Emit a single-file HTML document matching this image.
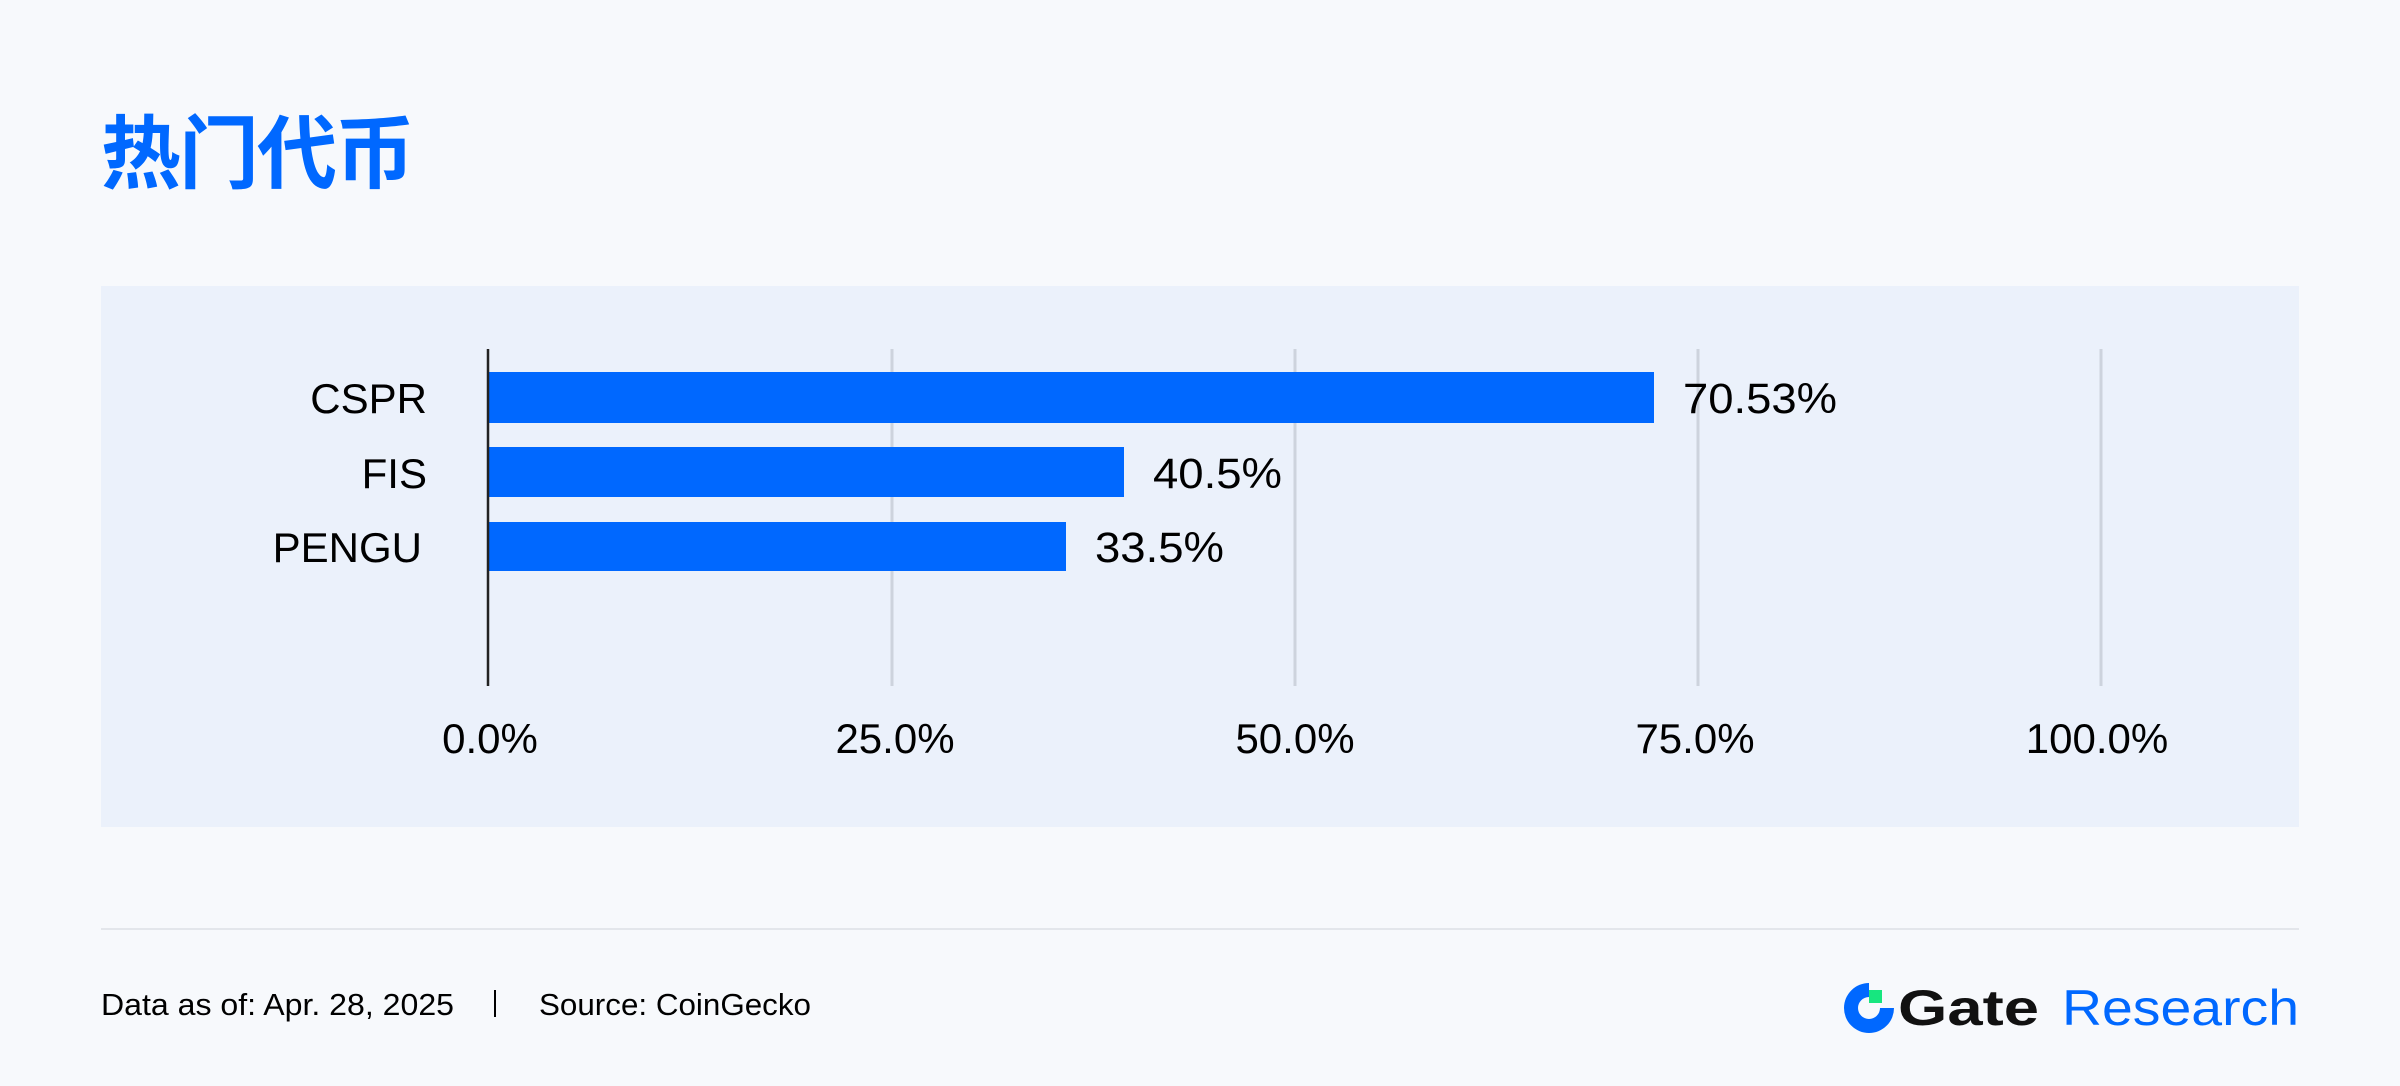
<!DOCTYPE html>
<html><head><meta charset="utf-8"><style>
html,body{margin:0;padding:0;background:#f7f9fc;}
svg{display:block}
</style></head><body>
<svg width="2400" height="1086" viewBox="0 0 2400 1086" xmlns="http://www.w3.org/2000/svg" font-family="Liberation Sans, sans-serif">
<rect width="2400" height="1086" fill="#f7f9fc"/>
<text x="101" y="182" font-family="Liberation Sans, Noto Sans CJK SC, sans-serif" font-weight="bold" font-size="80" fill="#0068ff" letter-spacing="-2">热门代币</text>
<rect x="101" y="286" width="2198" height="541" fill="#ebf1fb"/>
<g stroke="#cdd3dd" stroke-width="3">
<line x1="892" y1="349" x2="892" y2="686"/>
<line x1="1295" y1="349" x2="1295" y2="686"/>
<line x1="1698" y1="349" x2="1698" y2="686"/>
<line x1="2101" y1="349" x2="2101" y2="686"/>
</g>
<rect x="489" y="372" width="1165" height="51" fill="#0068ff"/>
<rect x="489" y="447" width="635" height="50" fill="#0068ff"/>
<rect x="489" y="522" width="577" height="49" fill="#0068ff"/>
<line x1="488" y1="349" x2="488" y2="686" stroke="#222" stroke-width="2.5"/>
<g font-size="42" fill="#000" text-anchor="end">
<text x="427" y="413">CSPR</text>
<text x="427" y="488">FIS</text>
<text x="422" y="562">PENGU</text>
</g>
<g font-size="43" fill="#000">
<text x="1683" y="413" textLength="154" lengthAdjust="spacingAndGlyphs">70.53%</text>
<text x="1153" y="488" textLength="129" lengthAdjust="spacingAndGlyphs">40.5%</text>
<text x="1095" y="562" textLength="129" lengthAdjust="spacingAndGlyphs">33.5%</text>
</g>
<g font-size="42" fill="#000" text-anchor="middle">
<text x="490" y="753">0.0%</text>
<text x="895" y="753">25.0%</text>
<text x="1295" y="753">50.0%</text>
<text x="1695" y="753">75.0%</text>
<text x="2097" y="753">100.0%</text>
</g>
<line x1="101" y1="929" x2="2299" y2="929" stroke="#e3e6eb" stroke-width="2"/>
<g font-size="31" fill="#000">
<text x="101" y="1015" textLength="353" lengthAdjust="spacingAndGlyphs">Data as of: Apr. 28, 2025</text>
<text x="539" y="1015" textLength="272" lengthAdjust="spacingAndGlyphs">Source: CoinGecko</text>
</g>
<line x1="495" y1="990" x2="495" y2="1017" stroke="#000" stroke-width="2"/>
<path d="M1869 983 A25 25 0 1 0 1894 1008 L1880 1008 A11 11 0 1 1 1869 997 Z" fill="#0068ff"/>
<rect x="1869" y="990" width="13" height="13" fill="#17e67f"/>
<text x="1898" y="1025" font-size="50" font-weight="bold" fill="#111" textLength="141" lengthAdjust="spacingAndGlyphs">Gate</text>
<text x="2062" y="1025" font-size="50" fill="#0068ff" textLength="237" lengthAdjust="spacingAndGlyphs">Research</text>
</svg>
</body></html>
